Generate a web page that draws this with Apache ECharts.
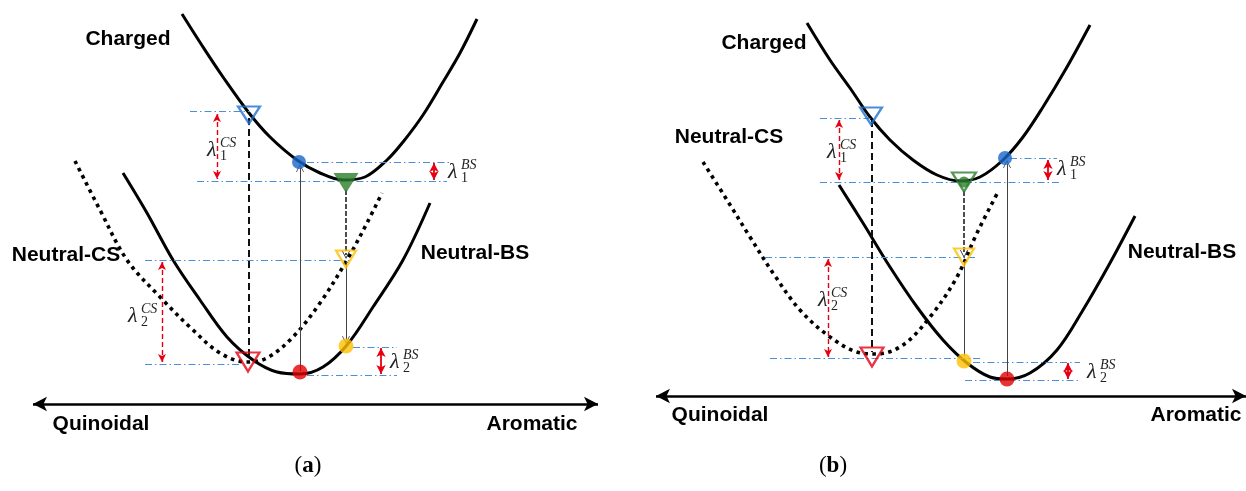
<!DOCTYPE html>
<html>
<head>
<meta charset="utf-8">
<script src="https://cdn.jsdelivr.net/npm/echarts@6/dist/echarts.min.js"></script>
<style>
  html, body { margin: 0; padding: 0; background: #fff; }
  #chart { width: 1246px; height: 491px; }
</style>
</head>
<body>
<div id="chart"></div>
<script>
// ---- Data (panel-local reaction coordinate x, energy E) ----
// Panel (a)
const chargedA   = [[182,477],[203,444],[223,414],[249,378],[270,354],[297,331],[320,318],[343,311],[365,314],[387,331],[403,349],[423,376],[443,409],[460,438],[477,472]];
const neutralCSA = [[75,330],[100,281],[127,231],[160,194],[193,161],[220,138],[247,129],[267,133],[293,154],[320,188],[347,231],[367,268],[382,298]];
const neutralBSA = [[123,318],[147,278],[173,231],[200,191],[227,154],[253,131],[277,119],[300,117],[323,124],[347,146],[373,184],[403,231],[430,288]];
// states: blueTri, blueDot, greenTri, yellowTri, yellowDot, redTri, redDot
const statesA = [[249,376],[299,329],[346,308],[346,232],[346,145],[248,129],[300,119]];
// reference levels: [E, xFrom, xTo]
const levelsA = [[380,190,250],[329,307,450],[309.5,197,447],[231,145,350],[127,145,242],[144,353,397],[116,307,397]];
// lambda gaps: [x, Etop, Ebottom] for λ1CS, λ2CS, λ1BS, λ2BS
const gapsA = [[217,377,312],[162,229,129],[434,328,311],[381,143,117]];
// transitions: [x, Efrom, Eto]: vertical (dashed), absorption, relax (dashed), relax (thin)
const transA = [[249,373,135],[300,120,323],[346,301,236],[346,229,151]];
const axisA = [87, 33, 598];

// Panel (b)
const chargedB   = [[184,468],[207,431],[227,403],[247,374],[267,351],[290,331],[314,316],[337,310],[357,314],[380,331],[400,354],[420,384],[444,424],[467,466]];
const neutralCSB = [[80,329],[104,291],[127,254],[150,218],[177,181],[207,154],[234,139],[254,137],[280,146],[307,174],[334,214],[354,258],[375,299]];
const neutralBSB = [[216,306],[240,268],[267,224],[294,184],[320,151],[344,128],[367,114],[384,112],[407,118],[434,141],[460,181],[487,228],[512,275]];
const statesB = [[248,375],[382,333],[341,309],[341,234],[341,130],[249,134],[384,112]];
const levelsB = [[373,197,248],[333,387,434],[309,197,437],[234,142,355],[133,147,360],[129,350,457],[111,342,457]];
const gapsB = [[216,371,311],[205,232,134],[425,331,311],[445,128,112]];
const transB = [[249,371,139],[384,115,327],[341,300,237],[341,230,135]];
const axisB = [95, 33, 623];

// text
const curveNames = ['Charged', 'Neutral-CS', 'Neutral-BS'];
const axisNames = ['Quinoidal', 'Aromatic'];
const captions = ['a', 'b'];
const lambdaSup = ['CS', 'CS', 'BS', 'BS'];
const lambdaSub = ['1', '2', '1', '2'];
// label anchors [x, E]
const nameAnchorsA = [[128,452],[66,236],[475,238]];
const nameAnchorsB = [[141,448],[106,354],[559,239]];
const axisNameAnchorsA = [[101,67],[532,67]];
const axisNameAnchorsB = [[97,76],[573,76]];
const captionAnchorA = [[308,25]];
const captionAnchorB = [[210,25]];
const lambdaAnchorsA = [[207,341],[128,175],[448,319],[390,129]];
const lambdaAnchorsB = [[204,339],[195,191],[434,322],[464,119]];

// ---- Build ----
const SANS = '"Liberation Sans", Arial, sans-serif';
const SERIF = '"Liberation Serif", "DejaVu Serif", serif';
const CHEVRON = 'path://M0,10 L5,0 L10,10 L9,10 L5,2.2 L1,10 Z';
const BLUE = '#1f6fd0', RED = '#e60012', YELLOW = '#ffc000', GREEN = '#2b7d2b';
const LEVEL_BLUE = '#4b8fd6';

const panels = [
  { charged: chargedA, cs: neutralCSA, bs: neutralBSA, states: statesA, levels: levelsA, gaps: gapsA, trans: transA, axis: axisA,
    names: nameAnchorsA, axisNames: axisNameAnchorsA, caption: captionAnchorA, lambdas: lambdaAnchorsA, greenOpen: false, relaxArrow: true },
  { charged: chargedB, cs: neutralCSB, bs: neutralBSB, states: statesB, levels: levelsB, gaps: gapsB, trans: transB, axis: axisB,
    names: nameAnchorsB, axisNames: axisNameAnchorsB, caption: captionAnchorB, lambdas: lambdaAnchorsB, greenOpen: true, relaxArrow: false }
];

function ml(data, lineStyle, symbol, symbolSize) {
  return {
    silent: true, animation: false, symbol: symbol || 'none', symbolSize: symbolSize || 8,
    label: { show: false }, emphasis: { disabled: true },
    lineStyle: Object.assign({ type: 'solid', opacity: 1 }, lineStyle), data: data
  };
}

function buildPanel(i, P) {
  const ax = { xAxisIndex: i, yAxisIndex: i };
  const S = [];
  const curve = (data, ls) => ({ type: 'line', ...ax, data, smooth: 0.35, showSymbol: false, silent: true, z: 3, lineStyle: ls });
  S.push(curve(P.charged, { color: '#000', width: 3 }));
  S.push(curve(P.bs, { color: '#000', width: 3 }));
  S.push(curve(P.cs, { color: '#000', width: 3.6, type: [3.6, 4.4], cap: 'butt' }));

  // blue reference levels
  S.push({ type: 'line', ...ax, data: [], z: 2,
    markLine: ml(P.levels.map(([e, x1, x2]) => [{ coord: [x1, e] }, { coord: [x2, e] }]),
      { color: LEVEL_BLUE, width: 1.2, type: [7, 3, 1.5, 3] }, 'none') });

  // red lambda arrows: dashed for CS (0,1), solid for BS (2,3)
  S.push({ type: 'line', ...ax, data: [], z: 4,
    markLine: ml(P.gaps.slice(0, 2).map(([x, e1, e2]) => [{ coord: [x, e1] }, { coord: [x, e2] }]),
      { color: RED, width: 1.4, type: [5, 3] }, ['arrow', 'arrow'], [6, 8]) });
  S.push({ type: 'line', ...ax, data: [], z: 4,
    markLine: ml(P.gaps.slice(2, 4).map(([x, e1, e2]) => [{ coord: [x, e1] }, { coord: [x, e2] }]),
      { color: RED, width: 1.8, type: 'solid' }, ['arrow', 'arrow'], [7, 9]) });

  // black vertical dashed (vertical ionization)
  const t = P.trans;
  S.push({ type: 'line', ...ax, data: [], z: 4,
    markLine: ml([[{ coord: [t[0][0], t[0][1]] }, { coord: [t[0][0], t[0][2]] }]],
      { color: '#111', width: 2, type: [7, 4] }, 'none') });
  // relax dashed with arrow
  S.push({ type: 'line', ...ax, data: [], z: 4,
    markLine: ml([[{ coord: [t[2][0], t[2][1]], symbol: 'none' }, { coord: [t[2][0], t[2][2]], symbol: CHEVRON, symbolSize: [8, 8] }]],
      { color: '#222', width: 1.6, type: [5, 2] }, 'none') });
  // thin absorption arrow and thin relax line
  S.push({ type: 'line', ...ax, data: [], z: 4,
    markLine: ml([
      [{ coord: [t[1][0], t[1][1]], symbol: 'none' }, { coord: [t[1][0], t[1][2]], symbol: CHEVRON, symbolSize: [8, 8] }],
      [{ coord: [t[3][0], t[3][1]], symbol: 'none' }, { coord: [t[3][0], t[3][2]], symbol: P.relaxArrow ? CHEVRON : 'none', symbolSize: [8, 8] }]
    ], { color: '#444', width: 1, type: 'solid' }, 'none') });

  // horizontal axis double arrow
  const [ae, ax1, ax2] = P.axis;
  S.push({ type: 'line', ...ax, data: [], z: 4,
    markLine: ml([[{ coord: [ax1, ae] }, { coord: [ax2, ae] }]],
      { color: '#000', width: 2.6, type: 'solid' }, ['arrow', 'arrow'], [11, 14]) });

  // state markers
  const st = P.states;
  const tri = (pt, color, size, filled) => ({
    type: 'scatter', ...ax, data: [pt], symbol: 'triangle', symbolRotate: 180, symbolSize: size, silent: true, z: 6,
    itemStyle: { color: filled ? color : 'rgba(255,255,255,0)', borderColor: color, borderWidth: filled ? 0 : 2.2 }
  });
  const dot = (pt, color, size) => ({
    type: 'scatter', ...ax, data: [pt], symbol: 'circle', symbolSize: size, silent: true, z: 6,
    itemStyle: { color }
  });
  S.push(tri(st[0], BLUE, [22, 17], false));
  S.push(dot(st[1], '#1767c9', 14));
  if (P.greenOpen) {
    S.push(tri(st[2], GREEN, [24, 19], false));
    S.push(dot(st[2], GREEN, 11));
  } else {
    S.push(tri(st[2], GREEN, [25, 20], true));
  }
  S.push(tri(st[3], YELLOW, [20, 17], false));
  S.push(dot(st[4], YELLOW, 15));
  S.push(tri(st[5], RED, [23, 19], false));
  S.push(dot(st[6], '#e00000', 15));

  // curve names
  S.push({ type: 'custom', ...ax, data: P.names, silent: true, z: 8,
    renderItem: (params, api) => {
      const p = api.coord([api.value(0), api.value(1)]);
      return { type: 'text', x: p[0], y: p[1], style: { text: curveNames[params.dataIndex], fontFamily: SANS, fontWeight: 'bold', fontSize: 21, fill: '#000', align: 'center', verticalAlign: 'middle' } };
    } });
  // axis end names
  S.push({ type: 'custom', ...ax, data: P.axisNames, silent: true, z: 8,
    renderItem: (params, api) => {
      const p = api.coord([api.value(0), api.value(1)]);
      return { type: 'text', x: p[0], y: p[1], style: { text: axisNames[params.dataIndex], fontFamily: SANS, fontWeight: 'bold', fontSize: 21, fill: '#000', align: 'center', verticalAlign: 'middle' } };
    } });
  // caption
  S.push({ type: 'custom', ...ax, data: P.caption, silent: true, z: 8,
    renderItem: (params, api) => {
      const p = api.coord([api.value(0), api.value(1)]);
      return { type: 'text', x: p[0], y: p[1], style: { text: '({b|' + captions[i] + '})', fontFamily: SERIF, fontSize: 23, fill: '#000', align: 'center', verticalAlign: 'middle',
        rich: { b: { fontFamily: SERIF, fontSize: 23, fontWeight: 'bold', fill: '#000' } } } };
    } });
  // lambda labels
  S.push({ type: 'custom', ...ax, data: P.lambdas, silent: true, z: 8,
    renderItem: (params, api) => {
      const p = api.coord([api.value(0), api.value(1)]);
      const k = params.dataIndex;
      return { type: 'group', children: [
        { type: 'text', x: p[0], y: p[1], style: { text: 'λ', fontFamily: SERIF, fontStyle: 'italic', fontSize: 22, fill: '#222', align: 'left', verticalAlign: 'middle' } },
        { type: 'text', x: p[0] + 13, y: p[1] - 7, style: { text: lambdaSup[k], fontFamily: SERIF, fontStyle: 'italic', fontSize: 14, fill: '#222', align: 'left', verticalAlign: 'middle' } },
        { type: 'text', x: p[0] + 13, y: p[1] + 6, style: { text: lambdaSub[k], fontFamily: SERIF, fontSize: 14, fill: '#222', align: 'left', verticalAlign: 'middle' } }
      ] };
    } });
  return S;
}

const chart = echarts.init(document.getElementById('chart'), null, { renderer: 'canvas' });
const grids = [
  { left: 0, top: 0, width: 623, height: 491 },
  { left: 623, top: 0, width: 623, height: 491 }
];
const option = {
  animation: false,
  backgroundColor: '#fff',
  grid: grids,
  xAxis: grids.map((g, i) => ({ type: 'value', gridIndex: i, min: 0, max: 623, show: false })),
  yAxis: grids.map((g, i) => ({ type: 'value', gridIndex: i, min: 0, max: 491, show: false })),
  series: [].concat(buildPanel(0, panels[0]), buildPanel(1, panels[1]))
};
chart.setOption(option);
</script>
</body>
</html>
